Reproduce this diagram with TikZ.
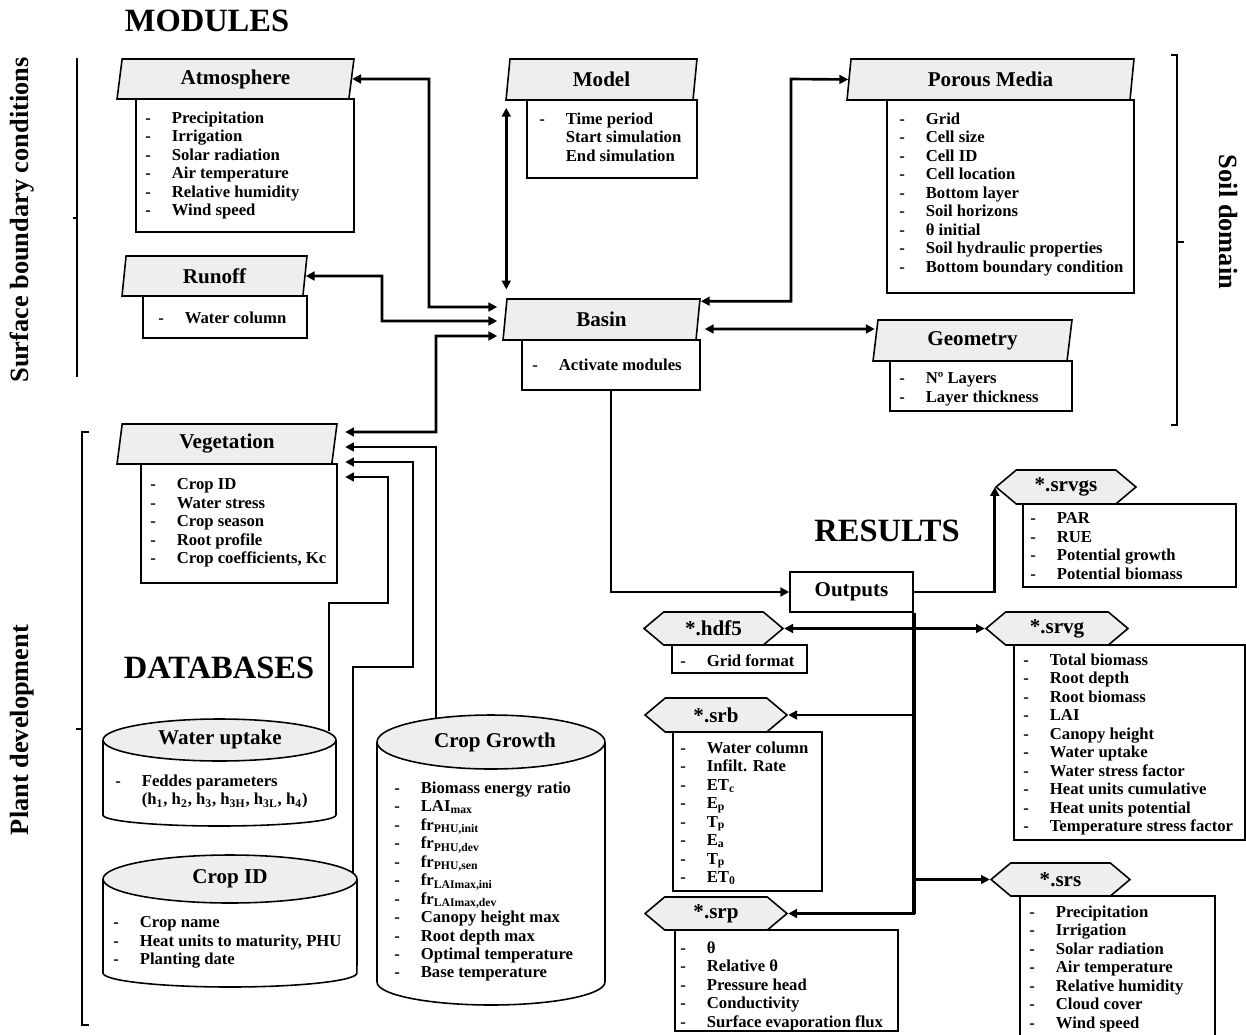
\documentclass[tikz,border=0pt]{standalone}
\usepackage{fontspec}
\setmainfont{Liberation Serif}
\usetikzlibrary{arrows.meta,shapes.geometric,shapes.symbols,fit}
\definecolor{hdrgray}{HTML}{EEEEEE}
\newcommand\itm{\makebox[0.53cm][l]{-}}
\newcommand\noitm{\hspace*{0.53cm}}

\begin{document}
\begin{tikzpicture}[x=0.02cm, y=-0.02cm,
    every node/.style={inner sep=0pt},
    hdr/.style={trapezium, trapezium left angle=75, trapezium right angle=105,
      trapezium stretches body, draw, line width=0.9pt, fill=hdrgray,
      font=\fontsize{12}{14}\selectfont\bfseries},
    hexa/.style={signal, signal to=west and east, signal pointer angle=80,
      draw, line width=0.9pt, fill=hdrgray, font=\fontsize{12}{14}\selectfont\bfseries},
    bodybox/.style={draw, line width=0.9pt, fill=white},
    lst/.style={anchor=north west, yshift=5.7pt, execute at begin node=\strut,
      align=left, font=\fontsize{9.5}{10.5}\selectfont\bfseries},
    ttl/.style={font=\fontsize{12}{14}\selectfont\bfseries},
    big/.style={font=\fontsize{18.5}{22}\selectfont\bfseries},
    side/.style={font=\fontsize{15}{18}\selectfont\bfseries},
    brk/.style={line width=1pt},
    arw/.style={line width=1.5pt, -{Triangle[length=5pt,width=5pt]}},
    arwb/.style={line width=1.5pt, {Triangle[length=5pt,width=5pt]}-{Triangle[length=5pt,width=5pt]}},
    trunk/.style={line width=2.6pt}]
  \useasboundingbox (0,0) rectangle (1246,1034);

  % headings and brackets
  \node[big] (modT) at (207,21) {MODULES};
  \node[big] (dbT) at (219,668) {DATABASES};
  \node[big] (resT) at (887,531) {RESULTS};
  \node[side, rotate=90] (sbc) at (22,220) {Surface boundary conditions};
  \node[side, rotate=90] (pdv) at (22,730) {Plant development};
  \node[side, rotate=-90] (sdm) at (1228,222) {Soil domain};
  \draw[brk] (77,58) -- (77,377) (77,218) -- (73,218);
  \draw[brk] (89,432) -- (82,432) -- (82,1025) -- (89,1025) (82,729) -- (76,729);
  \draw[brk] (1171,55) -- (1177,55) -- (1177,425) -- (1171,425) (1177,242) -- (1184,242);

  % modules
  \node[bodybox, fit={(136,99) (354,232)}] (atmB) {};
  \node[hdr, minimum width=4.74cm, minimum height=0.8cm] (atm) at (235.5,79) {Atmosphere};
  \node[lst] (atmL) at (145,121.5) {\itm Precipitation\\ \itm Irrigation\\ \itm Solar radiation\\
    \itm Air temperature\\ \itm Relative humidity\\ \itm Wind speed};

  \node[bodybox, fit={(143,296) (307,338)}] (rnfB) {};
  \node[hdr, minimum width=3.7cm, minimum height=0.8cm] (rnf) at (214.5,276) {Runoff};
  \node[lst] (rnfL) at (158,320.5) {\itm Water column};

  \node[bodybox, fit={(527,100) (697,178)}] (mdlB) {};
  \node[hdr, minimum width=3.82cm, minimum height=0.82cm] (mdl) at (601.5,79.5) {Model};
  \node[lst] (mdlL) at (539,122.5) {\itm Time period\\ \noitm Start simulation\\ \noitm End simulation};

  \node[bodybox, fit={(522,340) (700,390)}] (bsnB) {};
  \node[hdr, minimum width=3.94cm, minimum height=0.82cm] (bsn) at (601.5,319.5) {Basin};
  \node[lst] (bsnL) at (532,367.5) {\itm Activate modules};

  \node[bodybox, fit={(887,100) (1134,293)}] (prmB) {};
  \node[hdr, minimum width=5.74cm, minimum height=0.82cm] (prm) at (990.5,79.5) {Porous Media};
  \node[lst] (prmL) at (899,122.5) {\itm Grid\\ \itm Cell size\\ \itm Cell ID\\ \itm Cell location\\
    \itm Bottom layer\\ \itm Soil horizons\\ \itm θ initial\\ \itm Soil hydraulic properties\\
    \itm Bottom boundary condition};

  \node[bodybox, fit={(890,361) (1072,411)}] (geoB) {};
  \node[hdr, minimum width=3.98cm, minimum height=0.82cm] (geo) at (972.5,340.5) {Geometry};
  \node[lst] (geoL) at (899,382.5) {\itm Nº Layers\\ \itm Layer thickness};

  \node[bodybox, fit={(141,464) (337,583)}] (vegB) {};
  \node[hdr, minimum width=4.4cm, minimum height=0.8cm] (veg) at (227,444) {Vegetation};
  \node[lst] (vegL) at (150,488.5) {\itm Crop ID\\ \itm Water stress\\ \itm Crop season\\
    \itm Root profile\\ \itm Crop coefficients, Kc};

  % databases
  \draw[bodybox] (103,740) -- (103,815) arc[start angle=180, end angle=360, x radius=2.33cm, y radius=0.22cm] -- (336,740);
  \draw[bodybox, fill=hdrgray] (219.5,740) ellipse [x radius=2.33cm, y radius=0.42cm];
  \node[ttl] (wupT) at (220,739) {Water uptake};
  \node[lst] (wupL) at (115,784.5) {\itm Feddes parameters\\ \noitm (h\textsubscript{1}, h\textsubscript{2},
    h\textsubscript{3}, h\textsubscript{3H}, h\textsubscript{3L}, h\textsubscript{4})};
  \coordinate (wupTop) at (329,731);

  \draw[bodybox] (103,879) -- (103,973) arc[start angle=180, end angle=360, x radius=2.54cm, y radius=0.28cm] -- (357,879);
  \draw[bodybox, fill=hdrgray] (230,879) ellipse [x radius=2.54cm, y radius=0.48cm];
  \node[ttl] (cidT) at (230,879) {Crop ID};
  \node[lst] (cidL) at (113,926.5) {\itm Crop name\\ \itm Heat units to maturity, PHU\\ \itm Planting date};
  \coordinate (cidTop) at (353,873);

  \draw[bodybox] (377,742) -- (377,982) arc[start angle=180, end angle=360, x radius=2.28cm, y radius=0.46cm] -- (605,742);
  \draw[bodybox, fill=hdrgray] (491,742) ellipse [x radius=2.28cm, y radius=0.54cm];
  \node[ttl] (cgT) at (495,742) {Crop Growth};
  \node[lst] (cgL) at (394,791.5) {\itm Biomass energy ratio\\ \itm LAI\textsubscript{max}\\
    \itm fr\textsubscript{PHU,init}\\ \itm fr\textsubscript{PHU,dev}\\ \itm fr\textsubscript{PHU,sen}\\
    \itm fr\textsubscript{LAImax,ini}\\ \itm fr\textsubscript{LAImax,dev}\\ \itm Canopy height max\\
    \itm Root depth max\\ \itm Optimal temperature\\ \itm Base temperature};
  \coordinate (cgTop) at (436,719);

  % results
  \node[draw, line width=0.9pt, ttl, minimum width=2.46cm, minimum height=0.8cm] (out) at (851.5,592) {Outputs};

  \node[bodybox, fit={(1023,504) (1236,587)}] (srvgsB) {};
  \node[hexa, minimum width=2.8cm, minimum height=0.68cm] (srvgs) at (1066,487) {*.srvgs};
  \node[lst] (srvgsL) at (1030,522.5) {\itm PAR\\ \itm RUE\\ \itm Potential growth\\ \itm Potential biomass};

  \node[bodybox, fit={(672,645) (807,673)}] (hdfB) {};
  \node[hexa, minimum width=2.78cm, minimum height=0.66cm] (hdf) at (713.5,628.5) {*.hdf5};
  \node[lst] (hdfL) at (680,663.5) {\itm Grid format};

  \node[bodybox, fit={(1014,645) (1245,840)}] (srvgB) {};
  \node[hexa, minimum width=2.84cm, minimum height=0.66cm] (srvg) at (1057,628.5) {*.srvg};
  \node[lst] (srvgL) at (1023,663.5) {\itm Total biomass\\ \itm Root depth\\ \itm Root biomass\\ \itm LAI\\
    \itm Canopy height\\ \itm Water uptake\\ \itm Water stress factor\\ \itm Heat units cumulative\\
    \itm Heat units potential\\ \itm Temperature stress factor};

  \node[bodybox, fit={(673,732) (822,891)}] (srbB) {};
  \node[hexa, minimum width=2.84cm, minimum height=0.68cm] (srb) at (716,715) {*.srb};
  \node[lst] (srbL) at (680,751.5) {\itm Water column\\ \itm Infilt. Rate\\ \itm ET\textsubscript{c}\\
    \itm E\textsubscript{p}\\ \itm T\textsubscript{p}\\ \itm E\textsubscript{a}\\ \itm T\textsubscript{p}\\
    \itm ET\textsubscript{0}};

  \node[bodybox, fit={(1020,896) (1215,1045)}] (srsB) {};
  \node[hexa, minimum width=2.78cm, minimum height=0.66cm] (srs) at (1060.5,879.5) {*.srs};
  \node[lst] (srsL) at (1029,915.5) {\itm Precipitation\\ \itm Irrigation\\ \itm Solar radiation\\
    \itm Air temperature\\ \itm Relative humidity\\ \itm Cloud cover\\ \itm Wind speed};

  \node[bodybox, fit={(675,930) (898,1031)}] (srpB) {};
  \node[hexa, minimum width=2.84cm, minimum height=0.66cm] (srp) at (716,913.5) {*.srp};
  \node[lst] (srpL) at (680,951.5) {\itm θ\\ \itm Relative θ\\ \itm Pressure head\\ \itm Conductivity\\
    \itm Surface evaporation flux};

  % connectors
  \draw[arwb] (atm.east) -| (429,307) -- ([xshift=-0.14cm,yshift=0.25cm]bsn.west);
  \draw[arwb] (rnf.east) -| (382,321) -- ([xshift=-0.14cm,yshift=-0.03cm]bsn.west);
  \draw[arwb] ([xshift=-0.14cm,yshift=-0.33cm]bsn.west) -| (436,432) -- ([xshift=0.2cm,yshift=0.24cm]veg.east);
  \draw[arwb, shorten <=4pt, shorten >=5pt] (bsn.top left corner |- mdl.south) -- (bsn.top left corner);
  \draw[arwb] ([yshift=-0.06cm]bsn.top right corner) -| (791,79) -- (prm.west);
  \draw[arwb] ([xshift=0.12cm,yshift=-0.19cm]bsn.east) -- ([yshift=0.23cm]geo.west);
  \draw[arw] (cgTop) |- ([xshift=0.2cm,yshift=-0.06cm]veg.east);
  \draw[arw] (cidTop) |- (413,667) |- ([xshift=0.2cm,yshift=-0.36cm]veg.east);
  \draw[arw] (wupTop) |- (388,603) |- ([xshift=0.2cm,yshift=-0.66cm]veg.east);
  \draw[arw] (bsnB.south) |- (out.west);
  \draw[arw] (out.east) -| (srvgs.west);
  \draw[arwb] (hdf.east) -- (srvg.west);
  \draw[arw] (out.south east) |- (srp.east);
  \draw[trunk] (out.south east) -- (out.south east |- srp.east);
  \draw[arw] (out.south east |- srb.east) -- (srb.east);
  \draw[arw] (out.south east |- srs.west) -- (srs.west);
\end{tikzpicture}
\end{document}
